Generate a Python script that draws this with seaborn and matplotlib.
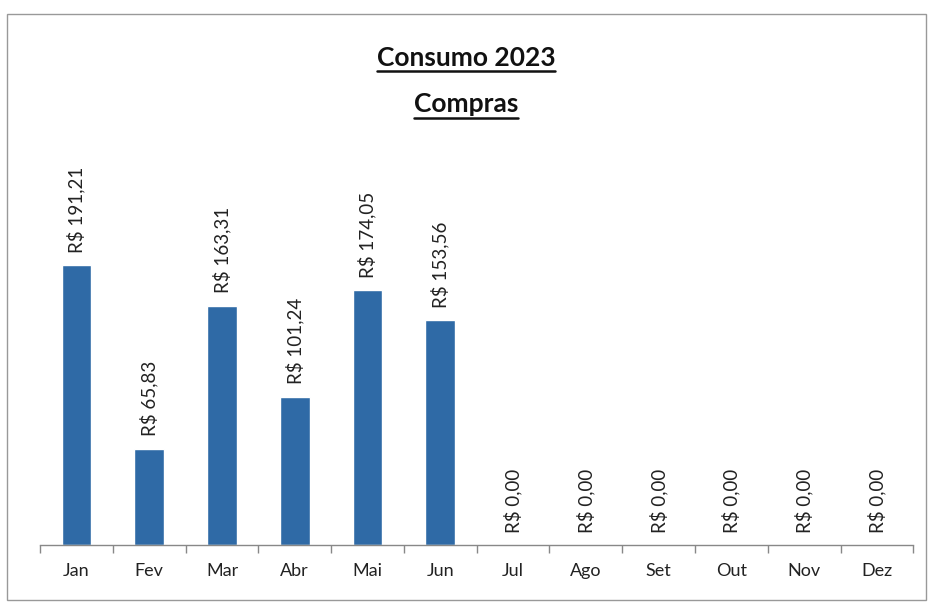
import matplotlib
matplotlib.use("Agg")
import matplotlib.pyplot as plt
from matplotlib.lines import Line2D
from matplotlib.patches import Rectangle
import seaborn as sns
import pandas as pd

meses = ['Jan', 'Fev', 'Mar', 'Abr', 'Mai', 'Jun', 'Jul', 'Ago', 'Set', 'Out', 'Nov', 'Dez']
valores = [191.21, 65.83, 163.31, 101.24, 174.05, 153.56, 0, 0, 0, 0, 0, 0]

df = pd.DataFrame({'mes': meses, 'valor': valores})

sns.set_style('white')
plt.rcParams['font.family'] = ['Lato', 'DejaVu Sans']

fig = plt.figure(figsize=(9.32, 6.07), dpi=100)
ax = fig.add_axes([0.043, 0.102, 0.937, 0.603])

sns.barplot(data=df, x='mes', y='valor', color='#2f6aa6', width=0.41,
            saturation=1, ax=ax)

rotulos = ['R$ ' + f'{v:.2f}'.replace('.', ',') for v in valores]
ax.bar_label(ax.containers[0], labels=rotulos, rotation=90, padding=9,
             fontsize=13.5, color='#222222', clip_on=False)

ax.set_ylim(0, 250)
ax.set_xlim(-0.5, len(meses) - 0.5)
ax.set_xlabel('')
ax.set_ylabel('')
ax.set_yticks([])
for s in ['top', 'right', 'left']:
    ax.spines[s].set_visible(False)
ax.spines['bottom'].set_color('#888888')
ax.spines['bottom'].set_linewidth(1)

# ticks entre as categorias, rotulos no centro
ax.set_xticks([i - 0.5 for i in range(len(meses) + 1)], minor=False)
ax.set_xticklabels([''] * (len(meses) + 1))
ax.set_xticks(range(len(meses)), minor=True)
ax.set_xticklabels(meses, minor=True, fontsize=13, color='#222222')
ax.tick_params(axis='x', which='major', direction='out', length=6,
               color='#888888', width=1, bottom=True)
ax.tick_params(axis='x', which='minor', length=0, pad=13)

# moldura do grafico
fig.patches.append(Rectangle((0.007, 0.012), 0.987, 0.965, transform=fig.transFigure,
                             fill=False, edgecolor='#999999', linewidth=1))

titulos = [('Consumo 2023', 0.905), ('Compras', 0.828)]
textos = []
for t, y in titulos:
    textos.append(fig.text(0.5, y, t, ha='center', va='center', fontsize=19,
                           fontweight='bold', color='#111111'))

fig.canvas.draw()
r = fig.canvas.get_renderer()
for txt in textos:
    bb = txt.get_window_extent(r).transformed(fig.transFigure.inverted())
    yl = bb.y0 - 0.002
    fig.add_artist(Line2D([bb.x0, bb.x1], [yl, yl], transform=fig.transFigure,
                          color='#111111', linewidth=1.8))

fig.savefig('out.png', dpi=100)
